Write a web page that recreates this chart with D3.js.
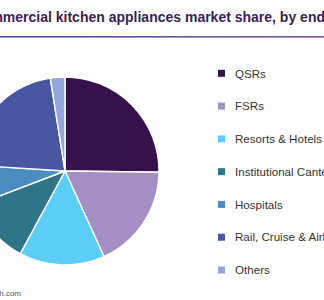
<!DOCTYPE html>
<meta charset="utf-8" />
<html>
<head>
    <script src="https://d3js.org/d3.v7.min.js"></script>
    <style>
        body { margin: 0; background: #fff; }
        svg { display: block; font-family: "Liberation Sans", Arial, sans-serif; }
    </style>
</head>
<body>
    <svg width="324" height="300"></svg>
<script>
// Data (share in %)
var categories = ["QSRs", "FSRs", "Resorts & Hotels", "Institutional Canteens", "Hospitals", "Rail, Cruise & Airlines", "Others"];
var shares = [25.2, 18.0, 14.7, 11.3, 6.8, 21.5, 2.5];
var colors = ["#37114a", "#a48fc4", "#5ccdf5", "#2f7487", "#4a8dc0", "#4956a2", "#95a6dc"];
var title = "Commercial kitchen appliances market share, by end-use, 2018 (%)";
var source = "Source: www.grandviewresearch.com";

var svg = d3.select("svg");
var width = 324, height = 300;

// title, clipped on both sides like the reference
var t = svg.append("text")
    .attr("y", 22)
    .attr("font-size", "14px")
    .attr("font-weight", "bold")
    .attr("fill", "#3a1d58")
    .text(title);
var cut = title.indexOf("by end") + "by end".length;
var w = t.node().getSubStringLength(0, cut);
t.attr("x", 325 - w);

// gradient rule under the title
var grad = svg.append("defs").append("linearGradient").attr("id", "rule");
grad.append("stop").attr("offset", "0%").attr("stop-color", "#4a55a6");
grad.append("stop").attr("offset", "100%").attr("stop-color", "#7a50a3");
svg.append("rect").attr("x", 0).attr("y", 36).attr("width", width).attr("height", 1.6)
    .attr("fill", "url(#rule)");

// pie
var cx = 65, cy = 171, r = 94;
var pie = d3.pie().sort(null).value(function(d) { return d; });
var arc = d3.arc().innerRadius(0).outerRadius(r);
var color = d3.scaleOrdinal().domain(categories).range(colors);

var g = svg.append("g").attr("transform", "translate(" + cx + "," + cy + ")");
g.selectAll("path")
    .data(pie(shares))
    .enter().append("path")
    .attr("d", arc)
    .attr("fill", function(d, i) { return color(categories[i]); })
    .attr("stroke", "#fff")
    .attr("stroke-width", 1.4)
    .attr("stroke-linejoin", "round");

// legend
var ly = d3.scalePoint().domain(categories).range([73.3, 270]);
var leg = svg.append("g").selectAll("g")
    .data(categories)
    .enter().append("g")
    .attr("transform", function(d) { return "translate(218," + ly(d) + ")"; });
leg.append("rect")
    .attr("x", 0).attr("y", -3.5).attr("width", 7).attr("height", 7)
    .attr("fill", function(d) { return color(d); });
leg.append("text")
    .attr("x", 17).attr("y", 4.2)
    .attr("font-size", "11.6px")
    .attr("fill", "#333")
    .text(function(d) { return d; });

// source note
svg.append("text")
    .attr("x", 21).attr("y", 296)
    .attr("text-anchor", "end")
    .attr("font-size", "8px")
    .attr("fill", "#555")
    .text(source);
</script>
</body>
</html>
